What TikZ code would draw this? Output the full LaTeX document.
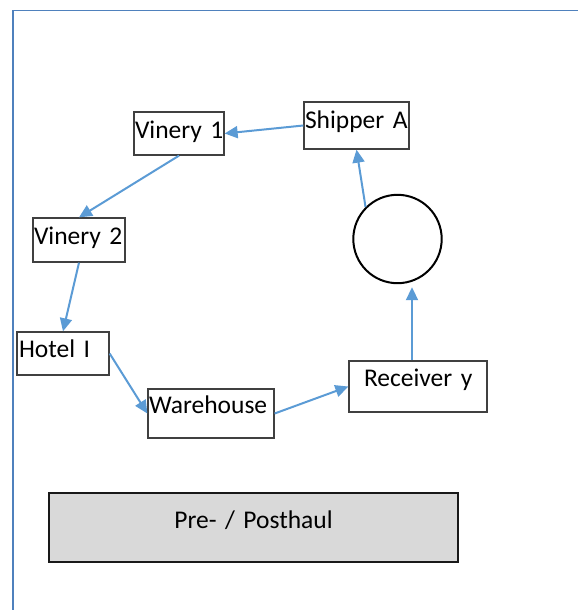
\documentclass[tikz,border=0pt]{standalone}
\usepackage{fontspec}
\setmainfont{Carlito}
\usetikzlibrary{arrows.meta}
\definecolor{arr}{RGB}{91,155,213}
\definecolor{frame}{RGB}{79,129,189}
\definecolor{boxgray}{RGB}{217,217,217}
\definecolor{edge}{RGB}{64,64,64}
\newcommand{\bigtxt}{\fontsize{25.5}{29}\selectfont\spaceskip=0.2em plus 0em minus 0em\relax}
\begin{document}
\begin{tikzpicture}[x=1pt,y=-1pt,
  bx/.style={draw=edge, line width=1.3pt, inner ysep=0pt, align=left,
    font=\bigtxt, anchor=center},
  conn/.style={draw=arr, line width=2pt, -{Triangle[length=13pt,width=12pt]}}]
\useasboundingbox (0,0) rectangle (578,610);
% frame
\coordinate (f1) at (13,610);
\coordinate (f2) at (13,10.5);
\coordinate (f3) at (578,10.5);
\draw[frame, line width=1.6pt] (f1) -- (f2) -- (f3);
% boxes
\node[bx, inner xsep=1pt, text width=88pt, text height=26pt, text depth=17pt] (v1) at (179,133.5) {\mbox{Vinery 1}};
\node[bx, inner xsep=1pt, text width=103pt, text height=26pt, text depth=21pt] (sa) at (356.5,125.5) {\mbox{Shipper A}};
\node[bx, inner xsep=1pt, text width=90pt, text height=26pt, text depth=18pt] (v2) at (79,240) {\mbox{Vinery 2}};
\node[bx, inner xsep=2pt, text width=88pt, text height=25pt, text depth=18pt] (ho) at (63,353.5) {\mbox{Hotel I}};
\node[bx, inner xsep=1pt, text width=124pt, text height=24pt, text depth=25pt] (wh) at (211,413.5) {\mbox{Warehouse}};
\node[bx, inner xsep=15pt, text width=108pt, text height=25pt, text depth=26pt] (rv) at (418,386.5) {\mbox{Receiver y}};
\node[draw=black, line width=2pt, circle, minimum size=88.4pt, inner sep=0pt] (c) at (397.5,239) {};
\node[draw=black!90, line width=2pt, fill=boxgray, inner xsep=0pt, inner ysep=0pt,
  text width=409pt, align=center, text height=35pt, text depth=34pt,
  font=\bigtxt] (ph) at (253.5,527.5) {Pre- / Posthaul};
% connectors
\draw[conn] (sa.west) -- (v1.east);
\draw[conn] (v1.south) -- (v2.north);
\draw[conn] (v2.south) -- (ho.north);
\draw[conn] (ho.east) -- (wh.west);
\draw[conn] (wh.east) -- (rv.west);
\draw[conn] ([xshift=-6pt]rv.north) -- ([xshift=14.5pt,yshift=-3pt]c.south);
\draw[conn] (c.135) -- (sa.south);
\end{tikzpicture}
\end{document}
